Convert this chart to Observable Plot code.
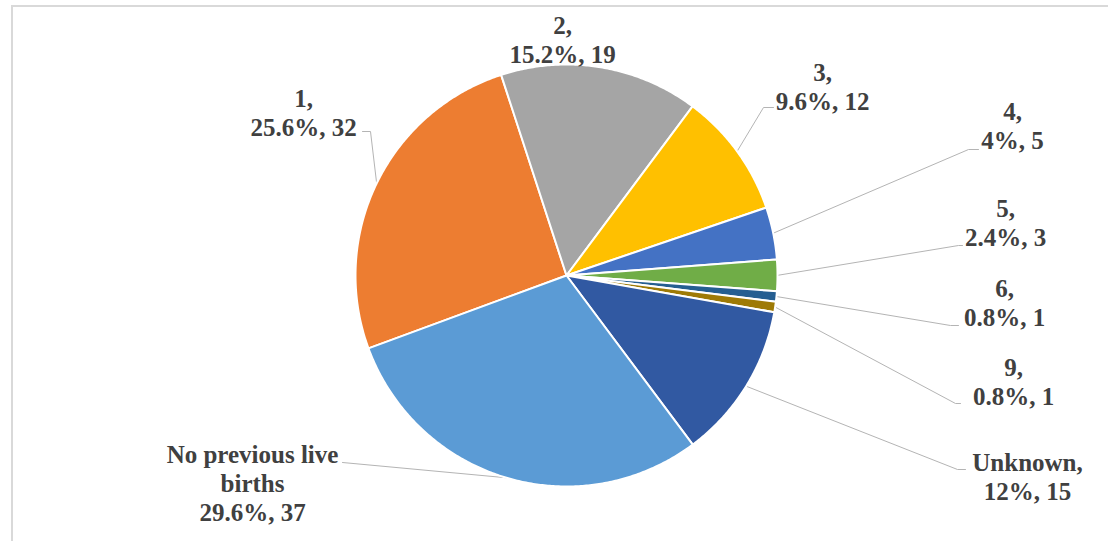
<!DOCTYPE html>
<html><head><meta charset="utf-8">
<script src="https://cdn.jsdelivr.net/npm/d3@7"></script>
<script src="https://cdn.jsdelivr.net/npm/@observablehq/plot@0.6"></script>
<style>
html,body{margin:0;padding:0;background:#fff;}
#wrap{position:relative;width:1108px;height:541px;overflow:hidden;}
#frame{position:absolute;left:11px;top:5px;width:1200px;height:600px;border-left:2px solid #d9d9d9;border-top:2px solid #d9d9d9;}
#wrap svg{position:absolute;left:0;top:0;}
</style></head><body><div id="wrap"><div id="frame"></div></div>
<script>
// ---- data ----
const categories = ["1", "2", "3", "4", "5", "6", "9", "Unknown", "No previous live births"];
const counts = [32, 19, 12, 5, 3, 1, 1, 15, 37];
const labelNames = ["1,", "2,", "3,", "4,", "5,", "6,", "9,", "Unknown,", "No previous live\nbirths"];
const colors = ["#ED7D31", "#A5A5A5", "#FFC000", "#4472C4", "#70AD47", "#255E91", "#9E7A06", "#3159A2", "#5B9BD5"];

// ---- layout (pixels relative to pie centre) ----
const R = 211;
const startDeg = 249.8;
const labelAt = [[-263, -163], [-4, -236], [256, -189], [446, -150], [439, -53], [438, 27], [447, 106], [461, 201], [-314, 207]];
const leaderBends = [
  [[-196, -144], [-204, -144]],
  null,
  [[197, -168], [207, -168]],
  [[402, -126], [412, -126]],
  [[392, -30], [396, -30]],
  [[384, 50], [392, 50]],
  [[389, 128], [394, 128]],
  [[391, 194], [399, 194]],
  [[-224, 187]]
];

const total = d3.sum(counts);
const rad = d => d * Math.PI / 180;
let a = rad(startDeg);
const slices = categories.map((c, i) => {
  const a0 = a, a1 = a + counts[i] / total * 2 * Math.PI;
  a = a1;
  return {cat: c, a0, a1, mid: (a0 + a1) / 2};
});
const pt = (ang, r) => [r * Math.sin(ang), -r * Math.cos(ang)];

const slicePts = [];
slices.forEach(s => {
  slicePts.push({cat: s.cat, x: 0, y: 0});
  const n = Math.max(4, Math.ceil((s.a1 - s.a0) / rad(0.5)));
  for (let k = 0; k <= n; k++) {
    const [x, y] = pt(s.a0 + (s.a1 - s.a0) * k / n, R);
    slicePts.push({cat: s.cat, x, y});
  }
});

const leaderPts = [];
slices.forEach((s, i) => {
  if (!leaderBends[i]) return;
  const [ex, ey] = pt(s.mid, R);
  leaderPts.push({cat: s.cat, x: ex, y: ey});
  leaderBends[i].forEach(([x, y]) => leaderPts.push({cat: s.cat, x, y}));
});

const labels = slices.map((s, i) => {
  const pct = +(counts[i] / total * 100).toFixed(1);
  return {cat: s.cat, x: labelAt[i][0], y: labelAt[i][1], text: `${labelNames[i]}\n${pct}%, ${counts[i]}`};
});

const chart = Plot.plot({
  width: 1108,
  height: 541,
  margin: 0,
  style: {background: "transparent", overflow: "visible"},
  x: {type: "linear", domain: [-566, 542], range: [0, 1108], axis: null},
  y: {type: "linear", domain: [-275, 266], range: [0, 541], axis: null},
  color: {type: "ordinal", domain: categories, range: colors, legend: false},
  marks: [
    Plot.line(leaderPts, {x: "x", y: "y", z: "cat", stroke: "#B4B4B4", strokeWidth: 1, curve: "linear"}),
    Plot.line(slicePts, {x: "x", y: "y", z: "cat", fill: "cat", stroke: "white", strokeWidth: 2, strokeLinejoin: "round", curve: "linear-closed"}),
    Plot.text(labels, {x: "x", y: "y", text: "text", fill: "#404040", fontSize: 25, fontWeight: "bold", fontFamily: "Liberation Serif", lineHeight: 1.16, textAnchor: "middle"})
  ]
});
document.getElementById("wrap").appendChild(chart);
</script>
</body></html>
